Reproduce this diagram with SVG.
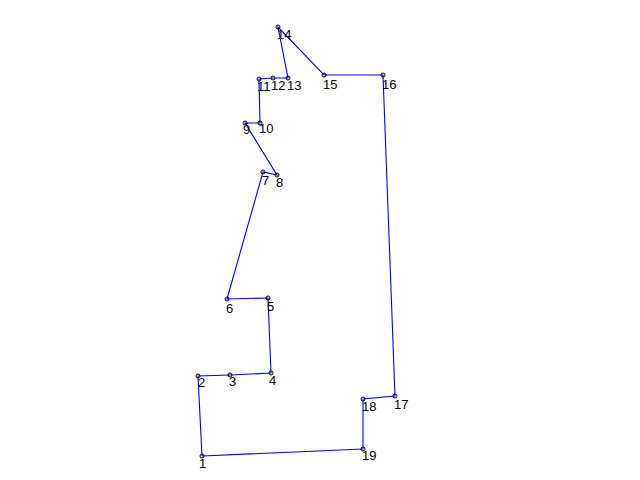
<svg xmlns="http://www.w3.org/2000/svg" width="640" height="480" viewBox="0 0 640 480">
<style>
.e{stroke:#0000ff;stroke-width:1.1;fill:none}
.m{stroke:#000;stroke-width:1;fill:none}
.t{font-family:"Liberation Sans",Arial,sans-serif;font-size:13px;fill:#000}
</style>
<rect width="640" height="480" fill="#fff"/>
<g id="connectors">
<polyline class="e" points="202,456 198,376 230,375 271,373 268,298 227,299 263,172 277,175 245,123 260,123 259,79 273,78 288,78 278,27 324,75 383,75 395,396 363,399 363,449 202,456"/>
</g>
<g id="n1"><circle class="m" cx="202" cy="456" r="2"/><text class="t" x="199" y="468">1</text></g>
<g id="n2"><circle class="m" cx="198" cy="376" r="2"/><text class="t" x="198" y="387">2</text></g>
<g id="n3"><circle class="m" cx="230" cy="375" r="2"/><text class="t" x="229" y="386">3</text></g>
<g id="n4"><circle class="m" cx="271" cy="373" r="2"/><text class="t" x="269" y="385">4</text></g>
<g id="n5"><circle class="m" cx="268" cy="298" r="2"/><text class="t" x="267" y="311">5</text></g>
<g id="n6"><circle class="m" cx="227" cy="299" r="2"/><text class="t" x="226" y="313">6</text></g>
<g id="n7"><circle class="m" cx="263" cy="172" r="2"/><text class="t" x="262" y="185">7</text></g>
<g id="n8"><circle class="m" cx="277" cy="175" r="2"/><text class="t" x="276" y="187">8</text></g>
<g id="n9"><circle class="m" cx="245" cy="123" r="2"/><text class="t" x="243" y="134">9</text></g>
<g id="n10"><circle class="m" cx="260" cy="123" r="2"/><text class="t" x="259" y="133">10</text></g>
<g id="n11"><circle class="m" cx="259" cy="79" r="2"/><text class="t" x="257" y="91">11</text></g>
<g id="n12"><circle class="m" cx="273" cy="78" r="2"/><text class="t" x="271" y="90">12</text></g>
<g id="n13"><circle class="m" cx="288" cy="78" r="2"/><text class="t" x="287" y="90">13</text></g>
<g id="n14"><circle class="m" cx="278" cy="27" r="2"/><text class="t" x="277" y="39">14</text></g>
<g id="n15"><circle class="m" cx="324" cy="75" r="2"/><text class="t" x="323" y="89">15</text></g>
<g id="n16"><circle class="m" cx="383" cy="75" r="2"/><text class="t" x="382" y="89">16</text></g>
<g id="n17"><circle class="m" cx="395" cy="396" r="2"/><text class="t" x="394" y="409">17</text></g>
<g id="n18"><circle class="m" cx="363" cy="399" r="2"/><text class="t" x="362" y="411">18</text></g>
<g id="n19"><circle class="m" cx="363" cy="449" r="2"/><text class="t" x="362" y="460">19</text></g>
</svg>
